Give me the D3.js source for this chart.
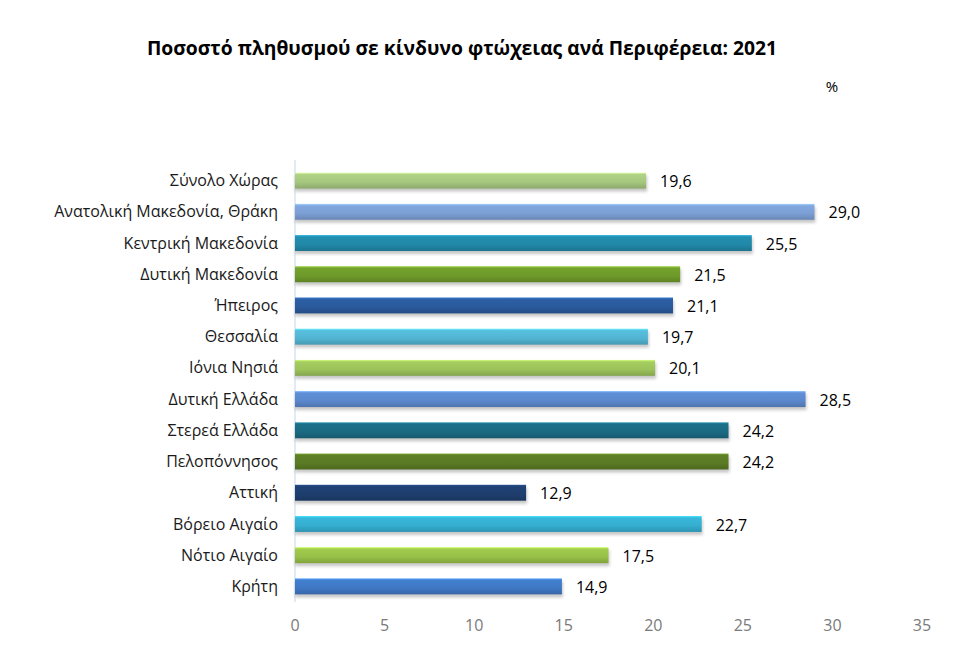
<!DOCTYPE html>
<html>
<head>
<meta charset="utf-8">
<script src="https://cdn.jsdelivr.net/npm/d3@7"></script>
<style>
  body { margin: 0; background: #fff; }
  text { font-family: "Open Sans", sans-serif; }
</style>
</head>
<body>
<div id="chart"></div>
<script>
var w = 957;
var h = 659;

var regions = ["Σύνολο Χώρας", "Ανατολική Μακεδονία, Θράκη", "Κεντρική Μακεδονία",
  "Δυτική Μακεδονία", "Ήπειρος", "Θεσσαλία", "Ιόνια Νησιά", "Δυτική Ελλάδα",
  "Στερεά Ελλάδα", "Πελοπόννησος", "Αττική", "Βόρειο Αιγαίο", "Νότιο Αιγαίο", "Κρήτη"];
var values = [19.6, 29.0, 25.5, 21.5, 21.1, 19.7, 20.1, 28.5, 24.2, 24.2, 12.9, 22.7, 17.5, 14.9];
var xTicks = [0, 5, 10, 15, 20, 25, 30, 35];
var barColors = ["#a6c77e", "#7b9fd4", "#2188a8", "#6e9a2a", "#2a5a9c", "#52b5d2", "#9cc25a",
  "#5b88cc", "#1a6a82", "#5a7a24", "#1e3e6e", "#35aed0", "#98c048", "#3f78c4"];

var svg = d3.select("#chart")
  .append("svg")
  .attr("width", w)
  .attr("height", h);

var defs = svg.append("defs");

// soft shadow under the bars
defs.append("filter")
  .attr("id", "shadow")
  .attr("x", "-5%").attr("y", "-50%")
  .attr("width", "110%").attr("height", "200%")
  .append("feGaussianBlur")
  .attr("stdDeviation", 1.5);

barColors.forEach(function(c, i) {
  var g = defs.append("linearGradient")
    .attr("id", "grad" + i)
    .attr("x1", 0).attr("y1", 0).attr("x2", 0).attr("y2", 1);
  g.append("stop").attr("offset", "0%").attr("stop-color", d3.color(c).brighter(0.8));
  g.append("stop").attr("offset", "12%").attr("stop-color", d3.color(c).brighter(0.15));
  g.append("stop").attr("offset", "60%").attr("stop-color", c);
  g.append("stop").attr("offset", "100%").attr("stop-color", d3.color(c).darker(0.45));
});

var x = d3.scaleLinear()
  .domain([0, 35])
  .range([295, 922]);

var y = d3.scaleBand()
  .domain(regions)
  .range([165, 602])
  .paddingInner(0.49)
  .paddingOuter(0.245);

// title
svg.append("text")
  .attr("x", 462)
  .attr("y", 55)
  .attr("text-anchor", "middle")
  .style("font-size", "19.3px")
  .style("font-weight", "bold")
  .style("fill", "#000")
  .text("Ποσοστό πληθυσμού σε κίνδυνο φτώχειας ανά Περιφέρεια: 2021");

svg.append("text")
  .attr("x", 832)
  .attr("y", 92)
  .attr("text-anchor", "middle")
  .style("font-size", "15px")
  .style("fill", "#000")
  .text("%");

// vertical axis line
svg.append("line")
  .attr("x1", x(0)).attr("x2", x(0))
  .attr("y1", 160).attr("y2", 602)
  .style("stroke", "#d9e4f2")
  .style("stroke-width", 1.5);

var data = regions.map(function(r, i) { return { name: r, value: values[i], i: i }; });

svg.selectAll(".shadow")
  .data(data)
  .enter()
  .append("rect")
  .attr("class", "shadow")
  .attr("x", x(0))
  .attr("y", function(d) { return y(d.name) + 3; })
  .attr("width", function(d) { return x(d.value) - x(0) + 1; })
  .attr("height", y.bandwidth())
  .style("fill", "#999")
  .style("opacity", 0.55)
  .attr("filter", "url(#shadow)");

svg.selectAll(".bar")
  .data(data)
  .enter()
  .append("rect")
  .attr("class", "bar")
  .attr("x", x(0))
  .attr("y", function(d) { return y(d.name); })
  .attr("width", function(d) { return x(d.value) - x(0); })
  .attr("height", y.bandwidth())
  .style("fill", function(d) { return "url(#grad" + d.i + ")"; });

// category labels
svg.selectAll(".cat")
  .data(data)
  .enter()
  .append("text")
  .attr("class", "cat")
  .attr("x", 278)
  .attr("y", function(d) { return y(d.name) + y.bandwidth() / 2; })
  .attr("dy", "0.35em")
  .attr("text-anchor", "end")
  .style("font-size", "16px")
  .style("fill", "#1a1a1a")
  .text(function(d) { return d.name; });

// value labels
svg.selectAll(".val")
  .data(data)
  .enter()
  .append("text")
  .attr("class", "val")
  .attr("x", function(d) { return x(d.value) + 14; })
  .attr("y", function(d) { return y(d.name) + y.bandwidth() / 2 + 1; })
  .attr("dy", "0.35em")
  .style("font-size", "16px")
  .style("fill", "#000")
  .text(function(d) { return d3.format(".1f")(d.value).replace(".", ","); });

// x tick labels
svg.selectAll(".tick")
  .data(xTicks)
  .enter()
  .append("text")
  .attr("class", "tick")
  .attr("x", function(d) { return x(d); })
  .attr("y", 631)
  .attr("text-anchor", "middle")
  .style("font-size", "16px")
  .style("fill", "#7a7a7a")
  .text(function(d) { return d; });
</script>
</body>
</html>
